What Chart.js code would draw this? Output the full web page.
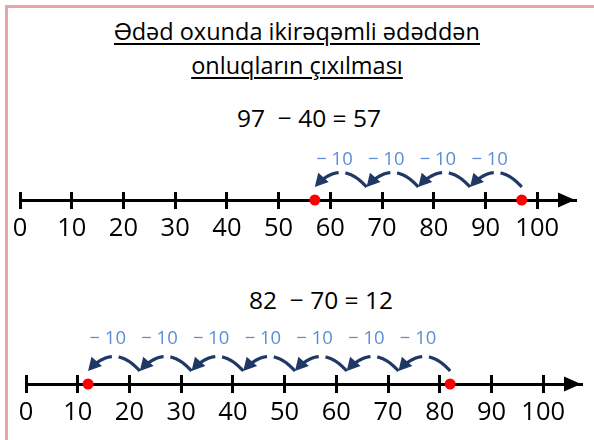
<!DOCTYPE html>
<html>
<head>
<meta charset="utf-8">
<script src="https://cdn.jsdelivr.net/npm/chart.js@4"></script>
<style>
  html, body { margin: 0; padding: 0; background: #fff; }
  body { width: 594px; height: 440px; position: relative; overflow: hidden; font-family: 'Open Sans', sans-serif; }
  .frame { position: absolute; left: 5px; top: 5px; width: 700px; height: 600px;
           border-left: 3px solid #e9a6a9; border-top: 3px solid #e9a6a9; }
  .title { position: absolute; left: 0; width: 594px; text-align: center; font-size: 23.5px;
           line-height: 34px; color: #000; white-space: pre; }
  .title span { text-decoration: underline; text-underline-offset: 3px; text-decoration-thickness: 1.5px; }
  .eq { position: absolute; font-size: 24.5px; line-height: 30px; color: #000; white-space: pre; transform: translateX(-50%); }
  canvas { position: absolute; left: 0; }
</style>
</head>
<body>
<div class="frame"></div>
<div class="title" style="top:14px"><span>Ədəd oxunda ikirəqəmli ədəddən</span></div>
<div class="title" style="top:48px"><span>onluqların çıxılması</span></div>
<div class="eq" id="eq1" style="left:309px; top:103px"></div>
<div class="eq" id="eq2" style="left:321px; top:285px"></div>
<canvas id="c1" width="594" height="120" style="top:130px"></canvas>
<canvas id="c2" width="594" height="120" style="top:314px"></canvas>
<script>
// ---- data ----
const tickValues = [0, 10, 20, 30, 40, 50, 60, 70, 80, 90, 100];
const hopSize = 10;
const hopLabel = '\u2212 10';
// example 1: 97 - 40 = 57
const topEquation = [97, 40, 57];
const topPoints = [97, 57];
const topHops = [97, 87, 77, 67];
// example 2: 82 - 70 = 12
const bottomEquation = [82, 70, 12];
const bottomPoints = [82, 12];
const bottomHops = [82, 72, 62, 52, 42, 32, 22];

document.getElementById('eq1').textContent = topEquation[0] + '  \u2212 ' + topEquation[1] + ' = ' + topEquation[2];
document.getElementById('eq2').textContent = bottomEquation[0] + '  \u2212 ' + bottomEquation[1] + ' = ' + bottomEquation[2];

Chart.defaults.font.family = "'Open Sans', sans-serif";

const AXIS_END = 107.3;
const ARC_COLOR = '#1f3864';
const LABEL_COLOR = '#5b8ed6';

function hopPlugin(hops, labelOffset) {
  return {
    id: 'hops',
    afterDatasetsDraw(chart) {
      const ctx = chart.ctx;
      const xs = chart.scales.x;
      const axisY = chart.chartArea.bottom;
      const area = chart.chartArea;
      // arrow head of the axis
      ctx.save();
      ctx.fillStyle = '#000';
      ctx.beginPath();
      ctx.moveTo(area.right, axisY);
      ctx.lineTo(area.right - 17, axisY - 7.5);
      ctx.lineTo(area.right - 17, axisY + 7.5);
      ctx.closePath();
      ctx.fill();
      ctx.restore();

      hops.forEach(from => {
        const to = from - hopSize;
        const x1 = xs.getPixelForValue(from);
        const x2 = xs.getPixelForValue(to);
        const yb = axisY - 13;
        const cx = (x1 + x2) / 2, cy = axisY - 42;
        const q = t => ({
          x: (1 - t) * (1 - t) * x1 + 2 * (1 - t) * t * cx + t * t * x2,
          y: (1 - t) * (1 - t) * yb + 2 * (1 - t) * t * cy + t * t * yb
        });
        ctx.save();
        ctx.strokeStyle = ARC_COLOR;
        ctx.fillStyle = ARC_COLOR;
        ctx.lineWidth = 3.2;
        ctx.lineCap = 'butt';
        const seg = (a, b) => {
          ctx.beginPath();
          for (let i = 0; i <= 30; i++) {
            const p = q(a + (b - a) * i / 30);
            if (i === 0) ctx.moveTo(p.x, p.y); else ctx.lineTo(p.x, p.y);
          }
          ctx.stroke();
        };
        seg(0.0, 0.41);
        seg(0.54, 0.85);
        // arrow head
        const dx = x2 - cx, dy = yb - cy;
        const len = Math.hypot(dx, dy);
        const ux = dx / len, uy = dy / len;
        const L = 13, W = 7;
        const bx = x2 - ux * L, by = yb - uy * L;
        ctx.beginPath();
        ctx.moveTo(x2, yb);
        ctx.lineTo(bx - uy * W, by + ux * W);
        ctx.lineTo(bx + uy * W, by - ux * W);
        ctx.closePath();
        ctx.fill();
        // label
        ctx.fillStyle = LABEL_COLOR;
        ctx.font = "18.5px 'Open Sans', sans-serif";
        ctx.textAlign = 'center';
        ctx.textBaseline = 'middle';
        ctx.fillText(hopLabel, xs.getPixelForValue(from - hopSize / 2 - 1.2), axisY - labelOffset);
        ctx.restore();
      });
    }
  };
}

function makeLine(id, points, hops, padLeft, padRight, padTop, labelOffset) {
  return new Chart(document.getElementById(id), {
    type: 'scatter',
    data: {
      datasets: [{
        data: points.map(v => ({ x: v, y: 0 })),
        pointRadius: 5.5,
        pointBackgroundColor: '#ff0000',
        pointBorderWidth: 0,
        pointBorderColor: '#ff0000',
        clip: false,
        showLine: false
      }]
    },
    options: {
      responsive: false,
      animation: false,
      devicePixelRatio: 1,
      layout: { padding: { left: padLeft, right: padRight, top: padTop, bottom: 0 } },
      plugins: { legend: { display: false }, tooltip: { enabled: false }, title: { display: false } },
      scales: {
        x: {
          type: 'linear',
          min: 0,
          max: AXIS_END,
          afterBuildTicks: s => { s.ticks = tickValues.map(v => ({ value: v })); },
          afterFit: s => { s.height = 50; },
          grid: { drawOnChartArea: true, drawTicks: true, tickLength: 9, color: '#000', lineWidth: 3 },
          border: { display: true, color: '#000', width: 3 },
          ticks: { font: { size: 25.5 }, color: '#000', padding: 4, maxRotation: 0, autoSkip: false }
        },
        y: { display: false, min: 0, max: 1 }
      }
    },
    plugins: [hopPlugin(hops, labelOffset)]
  });
}

makeLine('c1', topPoints, topHops, 20, 19, 62, 40);
makeLine('c2', bottomPoints, bottomHops, 26, 13, 61, 45);
</script>
</body>
</html>
